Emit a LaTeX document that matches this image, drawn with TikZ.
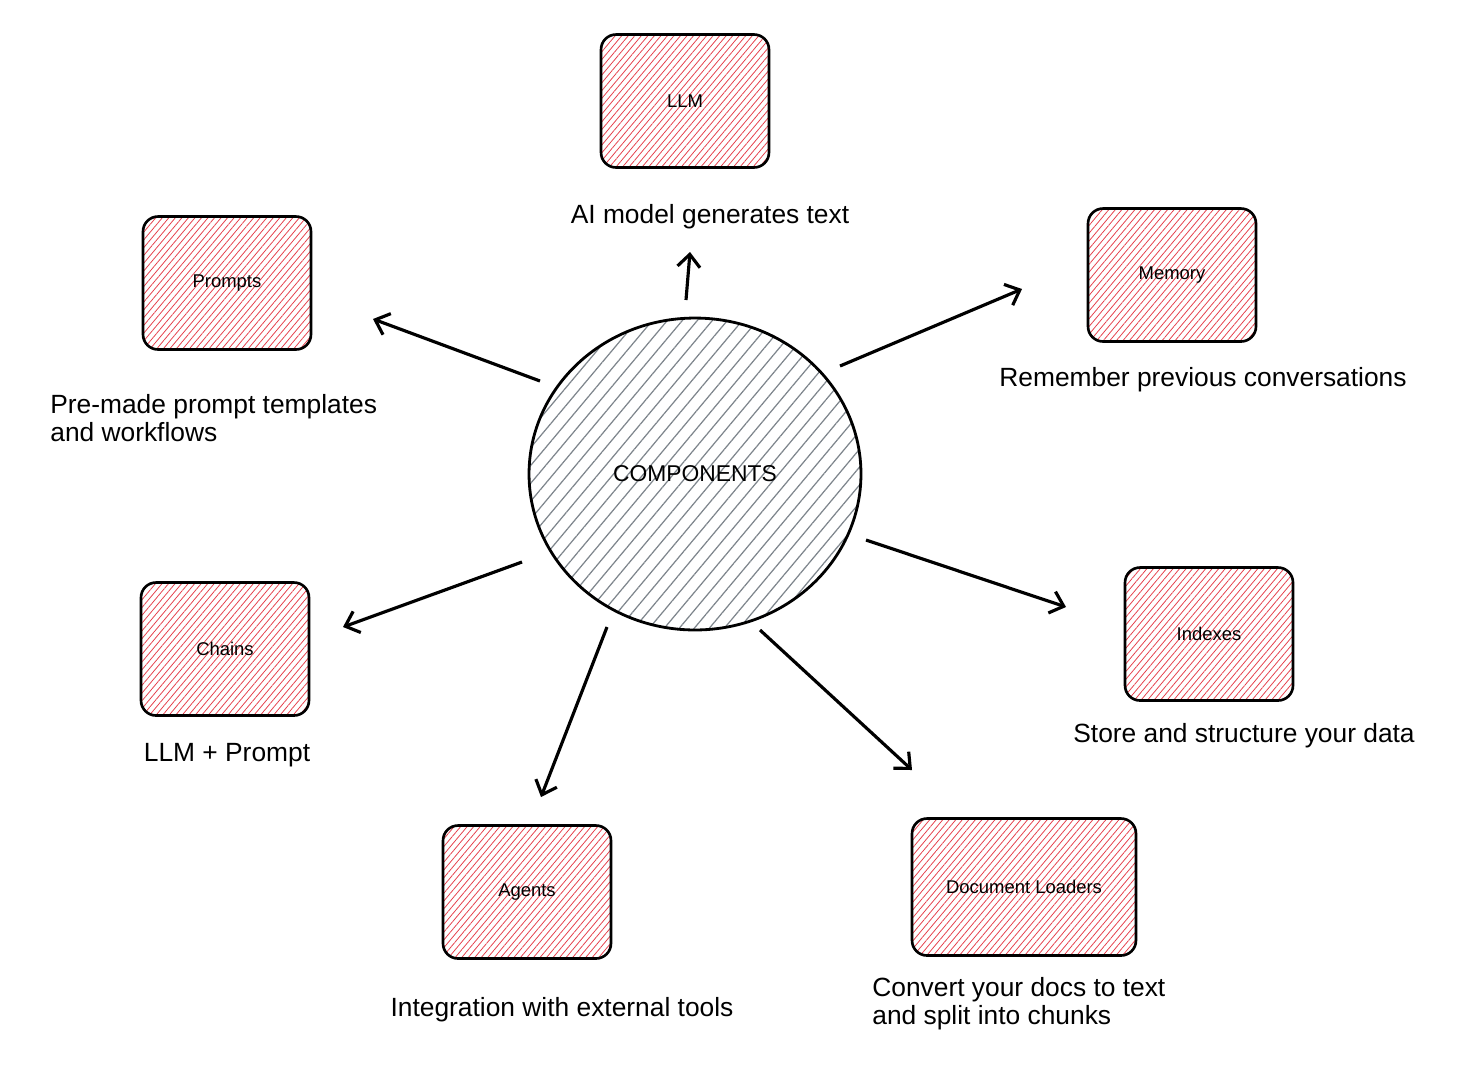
\documentclass[tikz,border=0pt]{standalone}
\usepackage{fontspec}
\setmainfont{Liberation Sans}
\usetikzlibrary{arrows.meta,patterns.meta,shapes.geometric}
\definecolor{hatchred}{HTML}{E5404C}
\definecolor{hatchgray}{HTML}{7E858C}

\begin{document}
\begin{tikzpicture}[x=0.02cm,y=-0.02cm,
    part/.style={draw,line width=1.5pt,rounded corners=0.3cm,
        minimum width=3.36cm,minimum height=2.66cm,
        pattern={Lines[angle=50,distance=1mm,line width=0.45pt]},pattern color=hatchred,
        font=\fontsize{10.5}{12}\selectfont},
    hub/.style={ellipse,draw,line width=1.6pt,inner sep=0pt,
        minimum width=6.64cm,minimum height=6.24cm,
        pattern={Lines[angle=50,distance=2.3mm,line width=0.7pt]},pattern color=hatchgray,
        font=\fontsize{13}{15}\selectfont},
    note/.style={font=\fontsize{15}{16}\selectfont,inner sep=0pt},
    link/.style={line width=1.8pt,-{Straight Barb[length=2.5mm,width=4.5mm]}}]
\useasboundingbox (0,0) rectangle (1466,1080);

% centre
\node[hub] (comp) at (695,474) {COMPONENTS};

% parts
\node[part] (llm)     at (685,101)  {LLM};
\node[part] (memory)  at (1172,275) {Memory};
\node[part] (prompts) at (227,283)  {Prompts};
\node[part] (chains)  at (225,649)  {Chains};
\node[part] (indexes) at (1209,634) {Indexes};
\node[part] (agents)  at (527,892)  {Agents};
\node[part,minimum width=4.48cm,minimum height=2.74cm] (loaders) at (1024,887) {Document Loaders};

% notes
\node[note] (t-llm)     at (710,217)  {AI model generates text};
\node[note] (t-memory)  at (1203,380) {Remember previous conversations};
\node[note,anchor=west,align=left] (t-prompts) at (50,418) {Pre-made prompt templates\\and workflows};
\node[note] (t-chains)  at (227,755)  {LLM + Prompt};
\node[note] (t-indexes) at (1244,736) {Store and structure your data};
\node[note] (t-agents)  at (562,1010) {Integration with external tools};
\node[note,anchor=west,align=left] (t-loaders) at (872,1004) {Convert your docs to text\\and split into chunks};

% arrow ends
\coordinate (s-llm) at (686,300);     \coordinate (e-llm) at (690,252);
\coordinate (s-memory) at (840,366);  \coordinate (e-memory) at (1022,289);
\coordinate (s-prompts) at (540,381); \coordinate (e-prompts) at (373,319);
\coordinate (s-chains) at (522,562);  \coordinate (e-chains) at (343,627);
\coordinate (s-indexes) at (866,540); \coordinate (e-indexes) at (1066,607);
\coordinate (s-agents) at (607,627);  \coordinate (e-agents) at (541,797);
\coordinate (s-loaders) at (760,630); \coordinate (e-loaders) at (912,770);

\foreach \n in {llm,memory,prompts,chains,indexes,agents,loaders}
    \draw[link] (s-\n) -- (e-\n);
\end{tikzpicture}
\end{document}
